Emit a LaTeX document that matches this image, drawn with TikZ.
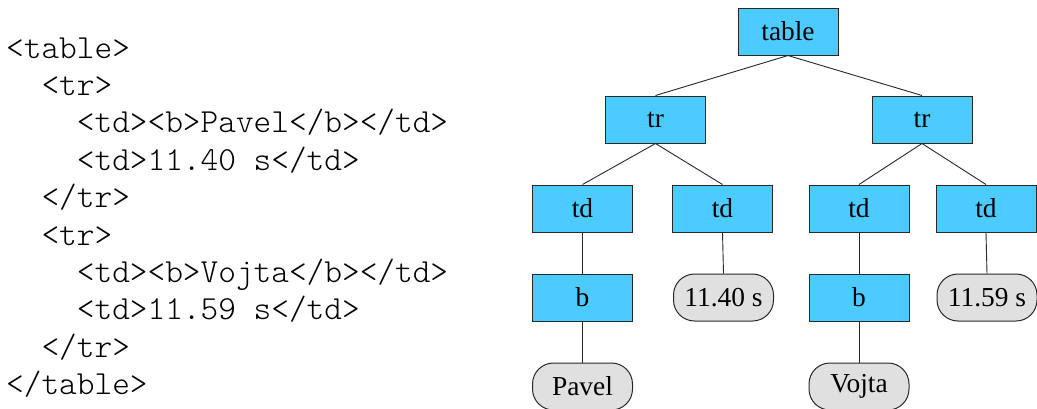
\documentclass[tikz,border=0pt]{standalone}
\usepackage{fontspec}
\setmainfont{Liberation Serif}
\newfontfamily\srcfont{Latin Modern Mono Light}
\definecolor{elemblue}{RGB}{76,203,255}
\definecolor{textgray}{RGB}{224,224,224}
\definecolor{edgegray}{RGB}{40,40,40}
\begin{document}
\begin{tikzpicture}[x=1bp,y=-1bp,
  elem/.style={draw=edgegray, line width=1bp, fill=elemblue, minimum width=100bp,
    minimum height=47bp, inner sep=0pt, font=\fontsize{27.5}{31}\selectfont},
  leaf/.style={draw=edgegray, line width=1bp, fill=textgray, rounded corners=21bp,
    minimum width=100bp, minimum height=47bp, inner sep=0pt, font=\fontsize{27.5}{31}\selectfont},
  link/.style={draw=edgegray, line width=0.9bp},
  code/.style={anchor=base west, inner sep=0pt, font=\fontsize{33.8}{38}\srcfont}]
\useasboundingbox (0,0) rectangle (1037,408);

% HTML source
\node[code] (l1) at (6,58) {<table>};
\node[code] (l2) at (6,95.4) {\ \ <tr>};
\node[code] (l3) at (6,132.8) {\ \ \ \ <td><b>Pavel</b></td>};
\node[code] (l4) at (6,170.2) {\ \ \ \ <td>11.40 s</td>};
\node[code] (l5) at (6,207.6) {\ \ </tr>};
\node[code] (l6) at (6,245) {\ \ <tr>};
\node[code] (l7) at (6,282.4) {\ \ \ \ <td><b>Vojta</b></td>};
\node[code] (l8) at (6,319.8) {\ \ \ \ <td>11.59 s</td>};
\node[code] (l9) at (6,357.2) {\ \ </tr>};
\node[code] (l10) at (6,394.6) {</table>};

% DOM tree
\node[elem] (table) at (788,31.5) {table};
\node[elem] (tr1) at (655.5,119.5) {tr};
\node[elem] (tr2) at (922,119.5) {tr};
\node[elem] (td1) at (582.5,208.5) {td};
\node[elem] (td2) at (722.5,208.5) {td};
\node[elem] (td3) at (859,208.5) {td};
\node[elem] (td4) at (986,208.5) {td};
\node[elem] (b1) at (582.5,297.5) {b};
\node[leaf] (t2) at (723.5,297.5) {11.40 s};
\node[elem] (b2) at (859,297.5) {b};
\node[leaf] (t4) at (987,297.5) {11.59 s};
\node[leaf] (t1) at (582.5,386.5) {Pavel};
\node[leaf] (t3) at (859,386.5) {Vojta};

\draw[link] (table.south) -- (tr1.north);
\draw[link] (table.south) -- (tr2.north);
\draw[link] (tr1.south) -- (td1.north);
\draw[link] (tr1.south) -- (td2.north);
\draw[link] (tr2.south) -- (td3.north);
\draw[link] (tr2.south) -- (td4.north);
\draw[link] (td1.south) -- (b1.north);
\draw[link] (td2.south) -- (t2.north);
\draw[link] (td3.south) -- (b2.north);
\draw[link] (td4.south) -- (t4.north);
\draw[link] (b1.south) -- (t1.north);
\draw[link] (b2.south) -- (t3.north);
\end{tikzpicture}
\end{document}
